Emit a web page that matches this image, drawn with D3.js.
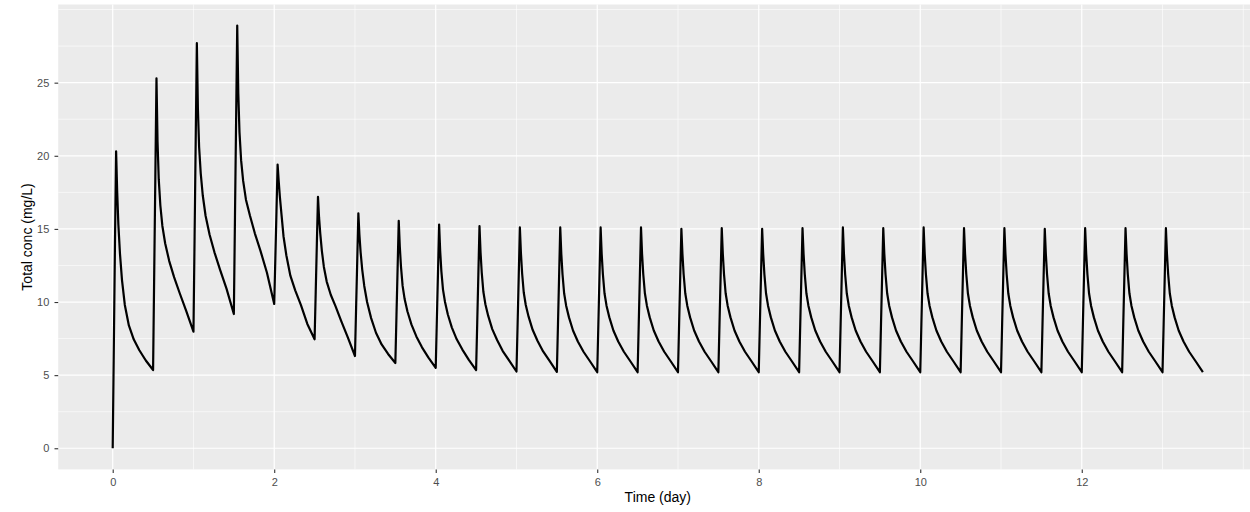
<!DOCTYPE html>
<html>
<head>
<meta charset="utf-8">
<script src="https://cdn.jsdelivr.net/npm/d3@7"></script>
<style>
  html, body { margin: 0; padding: 0; background: #ffffff; }
  svg { display: block; }
  text { font-family: "Liberation Sans", Arial, sans-serif; }
</style>
</head>
<body>
<svg id="chart" width="1250" height="512"></svg>
<script>
// Dose times (day) – one infusion every 12 h
const doseTimes = [0, 0.5, 1, 1.5, 2, 2.5, 3, 3.5, 4, 4.5, 5, 5.5, 6, 6.5, 7,
                   7.5, 8, 8.5, 9, 9.5, 10, 10.5, 11, 11.5, 12, 12.5, 13];

// Sampling times after each dose (day)
const offsetDays = [0, 0.014, 0.028, 0.042, 0.055, 0.07, 0.09, 0.115, 0.15, 0.2, 0.26, 0.33, 0.41, 0.5];

// Total concentration (mg/L) at each sampling time, one row per dose
const concByDose = [
  [0,     7.0, 14.0, 20.3,  17.6, 15.3, 13.3, 11.5, 9.8,  8.4,  7.45, 6.7,  6.0,  5.35],
  [5.35, 12.0, 18.6, 25.3,  21.0, 18.4, 16.6, 15.2, 14.0, 12.8, 11.7, 10.6, 9.4,  7.97],
  [7.97, 14.5, 21.1, 27.7,  23.2, 20.6, 18.8, 17.3, 15.9, 14.6, 13.4, 12.2, 10.9, 9.18],
  [9.18, 15.8, 22.4, 28.9,  24.3, 21.6, 19.7, 18.3, 17.0, 15.9, 14.7, 13.5, 12.0, 9.87],
  [9.87, 13.0, 16.2, 19.4,  18.3, 17.2, 16.0, 14.5, 13.2, 11.8, 10.8, 9.8,  8.5,  7.45],
  [7.45, 10.7, 14.0, 17.2,  15.8, 14.7, 13.5, 12.4, 11.4, 10.5, 9.7,  8.7,  7.6,  6.31],
  [6.31, 9.6,  12.8, 16.07, 14.6, 13.4, 12.2, 11.1, 10.0, 8.9,  7.9,  7.1,  6.45, 5.83],
  [5.83, 9.1,  12.3, 15.55, 13.8, 12.4, 11.1, 10.2, 9.35, 8.45, 7.65, 6.9,  6.2,  5.5],
  [5.5,  8.8,  12.0, 15.3,  13.5, 12.1, 10.85, 10.0, 9.15, 8.25, 7.45, 6.75, 6.05, 5.35],
  [5.35, 8.6,  11.9, 15.2,  13.4, 12.0, 10.7, 9.85, 9.05, 8.15, 7.4,  6.65, 6.0,  5.25],
  [5.25, 8.5,  11.8, 15.1,  13.35, 11.95, 10.65, 9.8, 9.0, 8.1,  7.35, 6.62, 5.97, 5.22],
  [5.22, 8.5,  11.8, 15.1,  13.3, 11.9, 10.6, 9.75, 8.95, 8.05, 7.3,  6.6,  5.95, 5.2],
  [5.2,  8.5,  11.8, 15.1,  13.3, 11.9, 10.6, 9.75, 8.95, 8.05, 7.3,  6.6,  5.95, 5.2],
  [5.2,  8.5,  11.8, 15.1,  13.3, 11.9, 10.6, 9.75, 8.95, 8.05, 7.3,  6.6,  5.95, 5.2],
  [5.2,  8.5,  11.8, 15.0,  13.3, 11.9, 10.6, 9.75, 8.95, 8.05, 7.3,  6.6,  5.95, 5.2],
  [5.2,  8.5,  11.8, 15.05, 13.3, 11.9, 10.6, 9.75, 8.95, 8.05, 7.3,  6.6,  5.95, 5.2],
  [5.2,  8.5,  11.8, 15.0,  13.3, 11.9, 10.6, 9.75, 8.95, 8.05, 7.3,  6.6,  5.95, 5.2],
  [5.2,  8.5,  11.8, 15.05, 13.3, 11.9, 10.6, 9.75, 8.95, 8.05, 7.3,  6.6,  5.95, 5.2],
  [5.2,  8.5,  11.8, 15.1,  13.3, 11.9, 10.6, 9.75, 8.95, 8.05, 7.3,  6.6,  5.95, 5.2],
  [5.2,  8.5,  11.8, 15.05, 13.3, 11.9, 10.6, 9.75, 8.95, 8.05, 7.3,  6.6,  5.95, 5.2],
  [5.2,  8.5,  11.8, 15.1,  13.3, 11.9, 10.6, 9.75, 8.95, 8.05, 7.3,  6.6,  5.95, 5.2],
  [5.2,  8.5,  11.8, 15.05, 13.3, 11.9, 10.6, 9.75, 8.95, 8.05, 7.3,  6.6,  5.95, 5.2],
  [5.2,  8.5,  11.8, 15.05, 13.3, 11.9, 10.6, 9.75, 8.95, 8.05, 7.3,  6.6,  5.95, 5.2],
  [5.2,  8.5,  11.8, 15.0,  13.3, 11.9, 10.6, 9.75, 8.95, 8.05, 7.3,  6.6,  5.95, 5.2],
  [5.2,  8.5,  11.8, 15.05, 13.3, 11.9, 10.6, 9.75, 8.95, 8.05, 7.3,  6.6,  5.95, 5.2],
  [5.2,  8.5,  11.8, 15.05, 13.3, 11.9, 10.6, 9.75, 8.95, 8.05, 7.3,  6.6,  5.95, 5.2],
  [5.2,  8.5,  11.8, 15.05, 13.3, 11.9, 10.6, 9.75, 8.95, 8.05, 7.3,  6.6,  5.95, 5.2]
];

// Axis breaks
const xBreaks = [0, 2, 4, 6, 8, 10, 12];
const xMinorBreaks = [1, 3, 5, 7, 9, 11, 13, 14];
const yBreaks = [0, 5, 10, 15, 20, 25];
const yMinorBreaks = [2.5, 7.5, 12.5, 17.5, 22.5, 27.5, 30];

const xTitle = "Time (day)";
const yTitle = "Total conc (mg/L)";

// Flatten the profile into one time series
const series = [];
doseTimes.forEach((t0, i) => {
  offsetDays.forEach((dt, j) => {
    if (i > 0 && j === 0) return;
    series.push({ t: t0 + dt, c: concByDose[i][j] });
  });
});

const svg = d3.select("#chart");
const panel = { left: 58.2, right: 1257.4, top: 4.5, bottom: 469.4 };

// 5% expansion on each side of the data range
function expand(ext) {
  const pad = (ext[1] - ext[0]) * 0.05;
  return [ext[0] - pad, ext[1] + pad];
}
const x = d3.scaleLinear()
  .domain(expand(d3.extent(series, d => d.t)))
  .range([panel.left, panel.right]);
const y = d3.scaleLinear()
  .domain(expand([0, d3.max(series, d => d.c)]))
  .range([panel.bottom, panel.top]);

// Panel background
svg.append("rect")
  .attr("x", panel.left).attr("y", panel.top)
  .attr("width", panel.right - panel.left)
  .attr("height", panel.bottom - panel.top)
  .attr("fill", "#EBEBEB");

const grid = svg.append("g");
// Minor grid
grid.selectAll(".ymin").data(yMinorBreaks).enter().append("line")
  .attr("x1", panel.left).attr("x2", panel.right)
  .attr("y1", d => y(d)).attr("y2", d => y(d))
  .attr("stroke", "#ffffff").attr("stroke-width", 0.6);
grid.selectAll(".xmin").data(xMinorBreaks).enter().append("line")
  .attr("y1", panel.top).attr("y2", panel.bottom)
  .attr("x1", d => x(d)).attr("x2", d => x(d))
  .attr("stroke", "#ffffff").attr("stroke-width", 0.6);
// Major grid
grid.selectAll(".ymaj").data(yBreaks).enter().append("line")
  .attr("x1", panel.left).attr("x2", panel.right)
  .attr("y1", d => y(d)).attr("y2", d => y(d))
  .attr("stroke", "#ffffff").attr("stroke-width", 1.2);
grid.selectAll(".xmaj").data(xBreaks).enter().append("line")
  .attr("y1", panel.top).attr("y2", panel.bottom)
  .attr("x1", d => x(d)).attr("x2", d => x(d))
  .attr("stroke", "#ffffff").attr("stroke-width", 1.2);

// Concentration-time profile
const line = d3.line().x(d => x(d.t)).y(d => y(d.c));
svg.append("path")
  .datum(series)
  .attr("d", line)
  .attr("fill", "none")
  .attr("stroke", "#000000")
  .attr("stroke-width", 2.2)
  .attr("stroke-linejoin", "round");

// Axes
const xAxis = svg.append("g")
  .attr("transform", `translate(0,${panel.bottom})`)
  .call(d3.axisBottom(x).tickValues(xBreaks).tickFormat(d3.format("d")).tickSize(3.7).tickPadding(5.2));
const yAxis = svg.append("g")
  .attr("transform", `translate(${panel.left},0)`)
  .call(d3.axisLeft(y).tickValues(yBreaks).tickFormat(d3.format("d")).tickSize(3.7).tickPadding(5.2));
[xAxis, yAxis].forEach(g => {
  g.select(".domain").remove();
  g.selectAll(".tick line").attr("stroke", "#333333").attr("stroke-width", 1.1);
  g.selectAll(".tick text")
    .attr("fill", "#4D4D4D")
    .style("font-size", "11px")
    .style("font-family", "'Liberation Sans', Arial, sans-serif");
});

// Axis titles
svg.append("text")
  .attr("x", (panel.left + panel.right) / 2)
  .attr("y", 502)
  .attr("text-anchor", "middle")
  .style("font-size", "14px")
  .attr("fill", "#000000")
  .text(xTitle);
svg.append("text")
  .attr("transform", `translate(32,${(panel.top + panel.bottom) / 2}) rotate(-90)`)
  .attr("text-anchor", "middle")
  .style("font-size", "14px")
  .attr("fill", "#000000")
  .text(yTitle);
</script>
</body>
</html>
